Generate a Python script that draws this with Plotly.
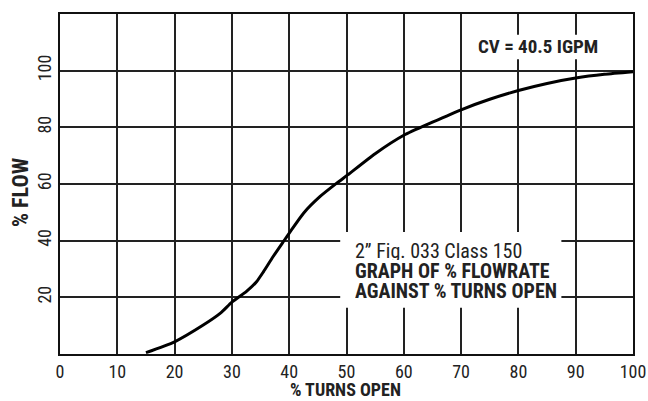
import plotly.graph_objects as go

turns_open = [15, 20, 25, 28, 30, 32.5, 34.3, 35.5, 37.2, 39, 40.3, 42.5, 45.4, 48.3, 50.2,
              55, 60, 65, 70, 75, 80, 85, 90, 95, 100]
pct_flow = [0.5, 4.3, 10.2, 14.4, 18.3, 22.0, 25.5, 29.0, 34.4, 39.7, 43.5, 49.7, 55.6, 60.3, 63.2,
            70.7, 77.2, 81.8, 86.2, 89.9, 93.0, 95.5, 97.4, 98.7, 99.6]

x_ticks = [0, 10, 20, 30, 40, 50, 60, 70, 80, 90, 100]
y_ticks = [20, 40, 60, 80, 100]

note_lines = ["2\u201d Fig. 033 Class 150", "<b>GRAPH OF % FLOWRATE</b>", "<b>AGAINST % TURNS OPEN</b>"]

FONT = "Liberation Sans Narrow, Roboto Condensed, DejaVu Sans Condensed, Arial Narrow, sans-serif"
L, R, T, B = 60, 15, 14, 47
PW, PH = 648 - L - R, 401 - T - B


def px_x(p):
    return (p - L) / PW


def px_y(p):
    return (401 - B - p) / PH


fig = go.Figure()
fig.add_trace(go.Scatter(
    x=turns_open, y=pct_flow, mode="lines",
    line=dict(color="black", width=3, shape="spline", smoothing=0.6),
    hoverinfo="skip", showlegend=False,
))

annotations = [
    dict(text="<b>CV = 40.5 IGPM</b>", xref="paper", yref="paper",
         x=px_x(538), y=px_y(46.5), xanchor="center", yanchor="middle",
         showarrow=False, font=dict(family=FONT, size=19, color="#222")),
    dict(text="<b>% FLOW</b>", xref="paper", yref="paper", textangle=-90,
         x=px_x(20), y=px_y(192), xanchor="center", yanchor="middle",
         showarrow=False, font=dict(family=FONT, size=22, color="#222")),
    dict(text="<b>% TURNS OPEN</b>", xref="paper", yref="paper",
         x=px_x(345.5), y=px_y(389.5), xanchor="center", yanchor="middle",
         showarrow=False, font=dict(family=FONT, size=18, color="#222")),
]
for line, cy in zip(note_lines, [250.7, 270.5, 290.3]):
    annotations.append(dict(
        text=line, xref="paper", yref="paper", x=px_x(353), y=px_y(cy),
        xanchor="left", yanchor="middle", height=19, showarrow=False,
        font=dict(family=FONT, size=20, color="#222")))

fig.update_layout(
    width=648, height=401, autosize=False,
    margin=dict(l=L, r=R, t=T, b=B, pad=0, autoexpand=False),
    paper_bgcolor="white", plot_bgcolor="white",
    font=dict(family=FONT, color="#222", size=17),
    xaxis=dict(
        range=[0, 100], tickvals=x_ticks, ticktext=[str(v) for v in x_ticks],
        showgrid=True, gridcolor="#222", gridwidth=1.5,
        showline=True, linecolor="#111", linewidth=2, mirror=True,
        ticks="", zeroline=False, automargin=False,
        tickfont=dict(family=FONT, size=18, color="#222"),
    ),
    yaxis=dict(
        range=[0, 120], tickvals=y_ticks, ticktext=[str(v) for v in y_ticks],
        showgrid=True, gridcolor="#222", gridwidth=1.5,
        showline=True, linecolor="#111", linewidth=2, mirror=True,
        ticks="", zeroline=False, tickangle=-90, automargin=False,
        tickfont=dict(family=FONT, size=18, color="#222"),
    ),
    shapes=[
        dict(type="rect", xref="x", yref="y", x0=48.9, x1=87.5, y0=16.3, y1=43.1,
             fillcolor="white", line=dict(width=0), layer="between"),
        dict(type="rect", xref="x", yref="y", x0=72.4, x1=94.2, y0=104, y1=112.7,
             fillcolor="white", line=dict(width=0), layer="between"),
    ],
    annotations=annotations,
)

fig.write_html("out.html", config={"displayModeBar": False, "responsive": False},
               post_script="document.body.style.margin='0px';document.body.style.overflow='hidden';")
